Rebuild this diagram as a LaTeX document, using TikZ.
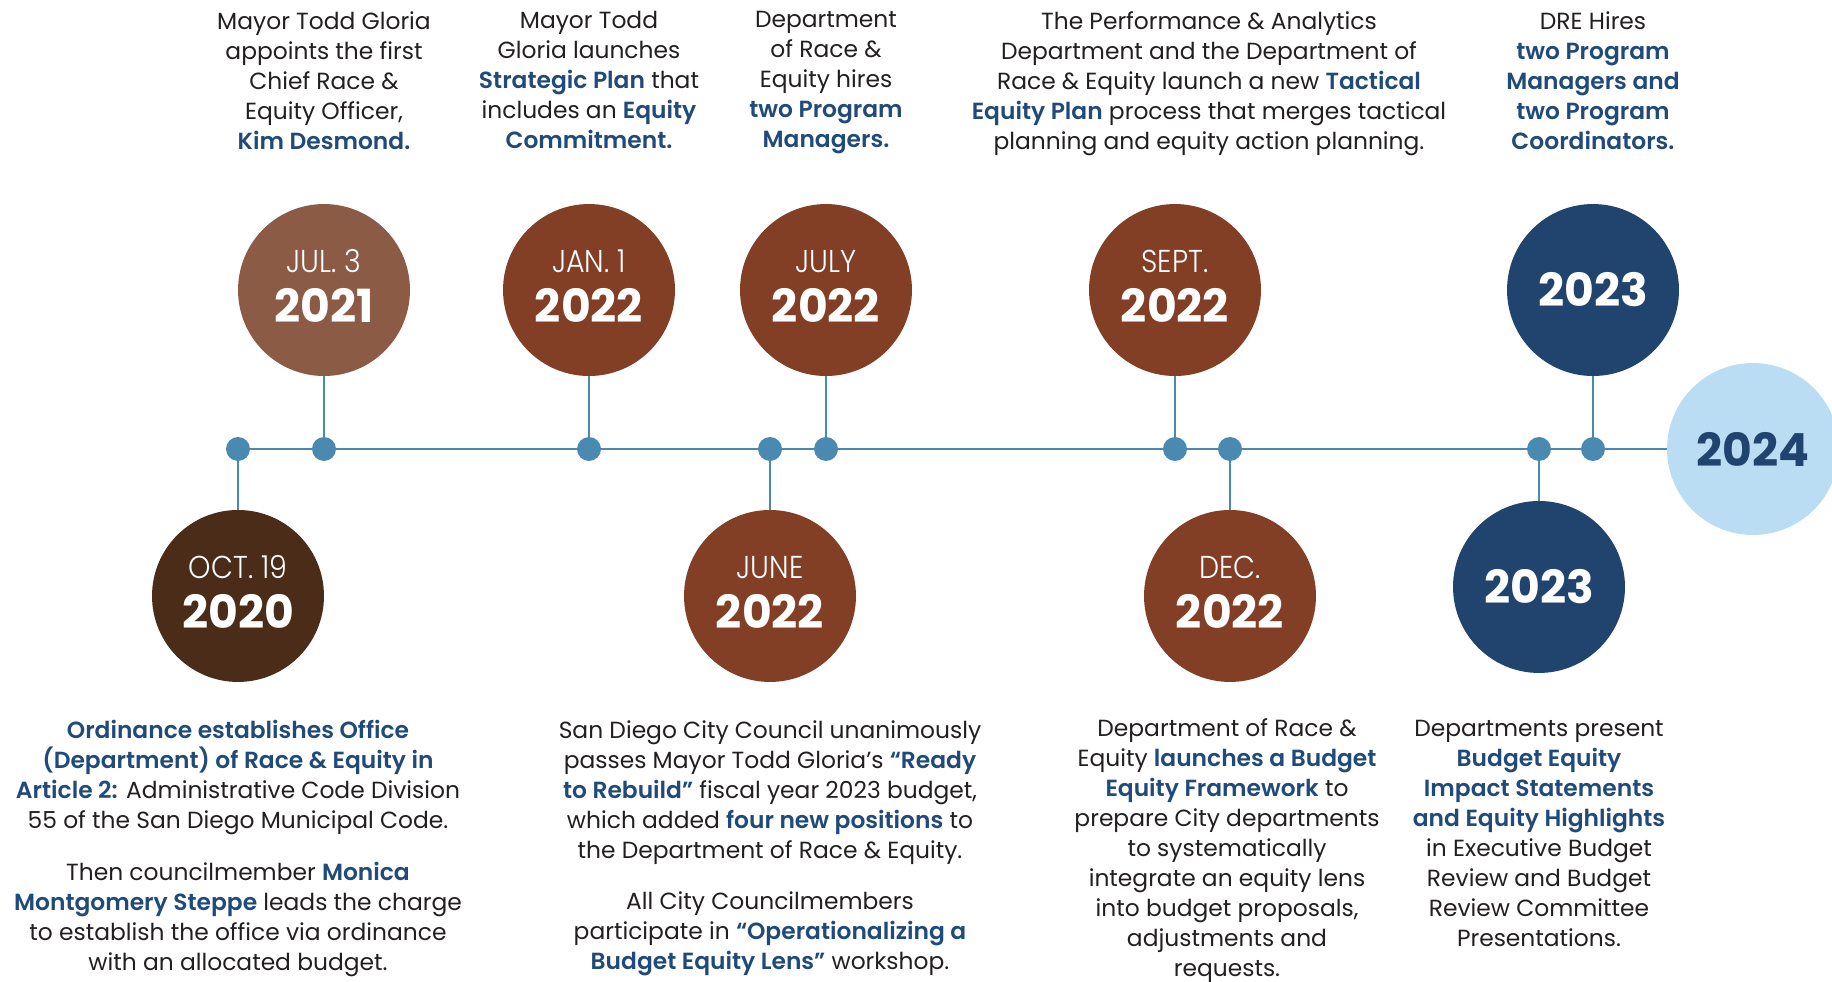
\documentclass[tikz,border=0pt]{standalone}
\usepackage{fontspec}
\setmainfont{Poppins}[BoldFont={Poppins SemiBold}]
\newfontfamily\monthfont{Poppins Light}[FakeStretch=0.9]
\newfontfamily\yearfont{Poppins Bold}
\usepackage{tikz}
\usetikzlibrary{positioning}
\usepackage{xcolor}
\definecolor{lineblue}{HTML}{4A8AB0}
\definecolor{darkbrown}{HTML}{4A2C18}
\definecolor{lightbrown}{HTML}{8C5B45}
\definecolor{rust}{HTML}{823F26}
\definecolor{navy}{HTML}{21446F}
\definecolor{skyblue}{HTML}{BBDDF3}
\definecolor{textblue}{HTML}{1F4A7A}
\definecolor{ink}{HTML}{231F20}
\newcommand{\hlt}[1]{{\bfseries\color{textblue}#1}}
\newcommand{\mon}[1]{{\monthfont\fontsize{18}{20}\selectfont #1}}

\begin{document}
\begin{tikzpicture}[
x=0.02cm, y=0.02cm,
dot/.style={circle, fill=lineblue, minimum size=0.48cm, inner sep=0, outer sep=0},
yearball/.style={circle, minimum size=3.44cm, inner sep=0, outer sep=0, text=white, align=center, font=\yearfont\fontsize{26}{28.5}\selectfont},
dated/.style={yearball, text depth=4.5pt},
blurb/.style={align=center, text=ink, inner sep=0, anchor=north, font=\fontsize{13.3}{17.07}\selectfont},
link/.style={draw=lineblue, line width=1.3pt}
]
\useasboundingbox (0,0) rectangle (1832,981);
\coordinate (top) at (0,970);
\coordinate (bot) at (0,261);

\node[dot] (d20) at (238,532) {};
\node[dot] (d21) at (324,532) {};
\node[dot] (d22a) at (589,532) {};
\node[dot] (d22b) at (770,532) {};
\node[dot] (d22c) at (826,532) {};
\node[dot] (d22d) at (1175,532) {};
\node[dot] (d22e) at (1230,532) {};
\node[dot] (d23a) at (1539,532) {};
\node[dot] (d23b) at (1593,532) {};

\node[dated, fill=darkbrown, below=0.98cm of d20] (oct20) {\mon{OCT. 19}\\2020};
\node[dated, fill=lightbrown, above=1.22cm of d21] (jul21) {\mon{JUL. 3}\\2021};
\node[dated, fill=rust, above=1.22cm of d22a] (jan22) {\mon{JAN. 1}\\2022};
\node[dated, fill=rust, below=0.98cm of d22b] (jun22) {\mon{JUNE}\\2022};
\node[dated, fill=rust, above=1.22cm of d22c] (jul22) {\mon{JULY}\\2022};
\node[dated, fill=rust, above=1.22cm of d22d] (sep22) {\mon{SEPT.}\\2022};
\node[dated, fill=rust, below=0.98cm of d22e] (dec22) {\mon{DEC.}\\2022};
\node[yearball, fill=navy, below=0.8cm of d23a] (lo23) {2023};
\node[yearball, fill=navy, above=1.22cm of d23b] (hi23) {2023};
\node[yearball, fill=skyblue, text=navy] (y24) at (1753,532) {2024};

\draw[link, line width=1.6pt] (d20) -- (y24);
\draw[link] (d20) -- (oct20);
\draw[link] (d21) -- (jul21);
\draw[link] (d22a) -- (jan22);
\draw[link] (d22b) -- (jun22);
\draw[link] (d22c) -- (jul22);
\draw[link] (d22d) -- (sep22);
\draw[link] (d22e) -- (dec22);
\draw[link] (d23a) -- (lo23);
\draw[link] (d23b) -- (hi23);

\node[blurb] (t21) at (d21 |- top) {Mayor Todd Gloria\\appoints the first\\Chief Race \&\\Equity Officer,\\\hlt{Kim Desmond.}};
\node[blurb] (t22a) at (d22a |- top) {Mayor Todd\\Gloria launches\\\hlt{Strategic Plan} that\\includes an \hlt{Equity}\\\hlt{Commitment.}};
\node[blurb] (t22c) at (d22c |- top) {Department\\of Race \&\\Equity hires\\\hlt{two Program}\\\hlt{Managers.}};
\node[blurb] (t22d) at (1209,970) {The Performance \& Analytics\\Department and the Department of\\Race \& Equity launch a new \hlt{Tactical}\\\hlt{Equity Plan} process that merges tactical\\planning and equity action planning.};
\node[blurb] (t23b) at (d23b |- top) {DRE Hires\\\hlt{two Program}\\\hlt{Managers and}\\\hlt{two Program}\\\hlt{Coordinators.}};

\node[blurb] (t20) at (d20 |- bot) {\hlt{Ordinance establishes Office}\\\hlt{(Department) of Race \& Equity in}\\\hlt{Article 2:} Administrative Code Division\\55 of the San Diego Municipal Code.\\[0.43cm]Then councilmember \hlt{Monica}\\\hlt{Montgomery Steppe} leads the charge\\to establish the office via ordinance\\with an allocated budget.};
\node[blurb] (t22b) at (d22b |- bot) {San Diego City Council unanimously\\passes Mayor Todd Gloria’s \hlt{“Ready}\\\hlt{to Rebuild”} fiscal year 2023 budget,\\which added \hlt{four new positions} to\\the Department of Race \& Equity.\\[0.43cm]All City Councilmembers\\participate in \hlt{“Operationalizing a}\\\hlt{Budget Equity Lens”} workshop.};
\node[blurb] (t22e) at (1227,263) {Department of Race \&\\Equity \hlt{launches a Budget}\\\hlt{Equity Framework} to\\prepare City departments\\to systematically\\integrate an equity lens\\into budget proposals,\\adjustments and\\requests.};
\node[blurb] (t23a) at (d23a |- bot) {Departments present\\\hlt{Budget Equity}\\\hlt{Impact Statements}\\\hlt{and Equity Highlights}\\in Executive Budget\\Review and Budget\\Review Committee\\Presentations.};
\end{tikzpicture}
\end{document}
